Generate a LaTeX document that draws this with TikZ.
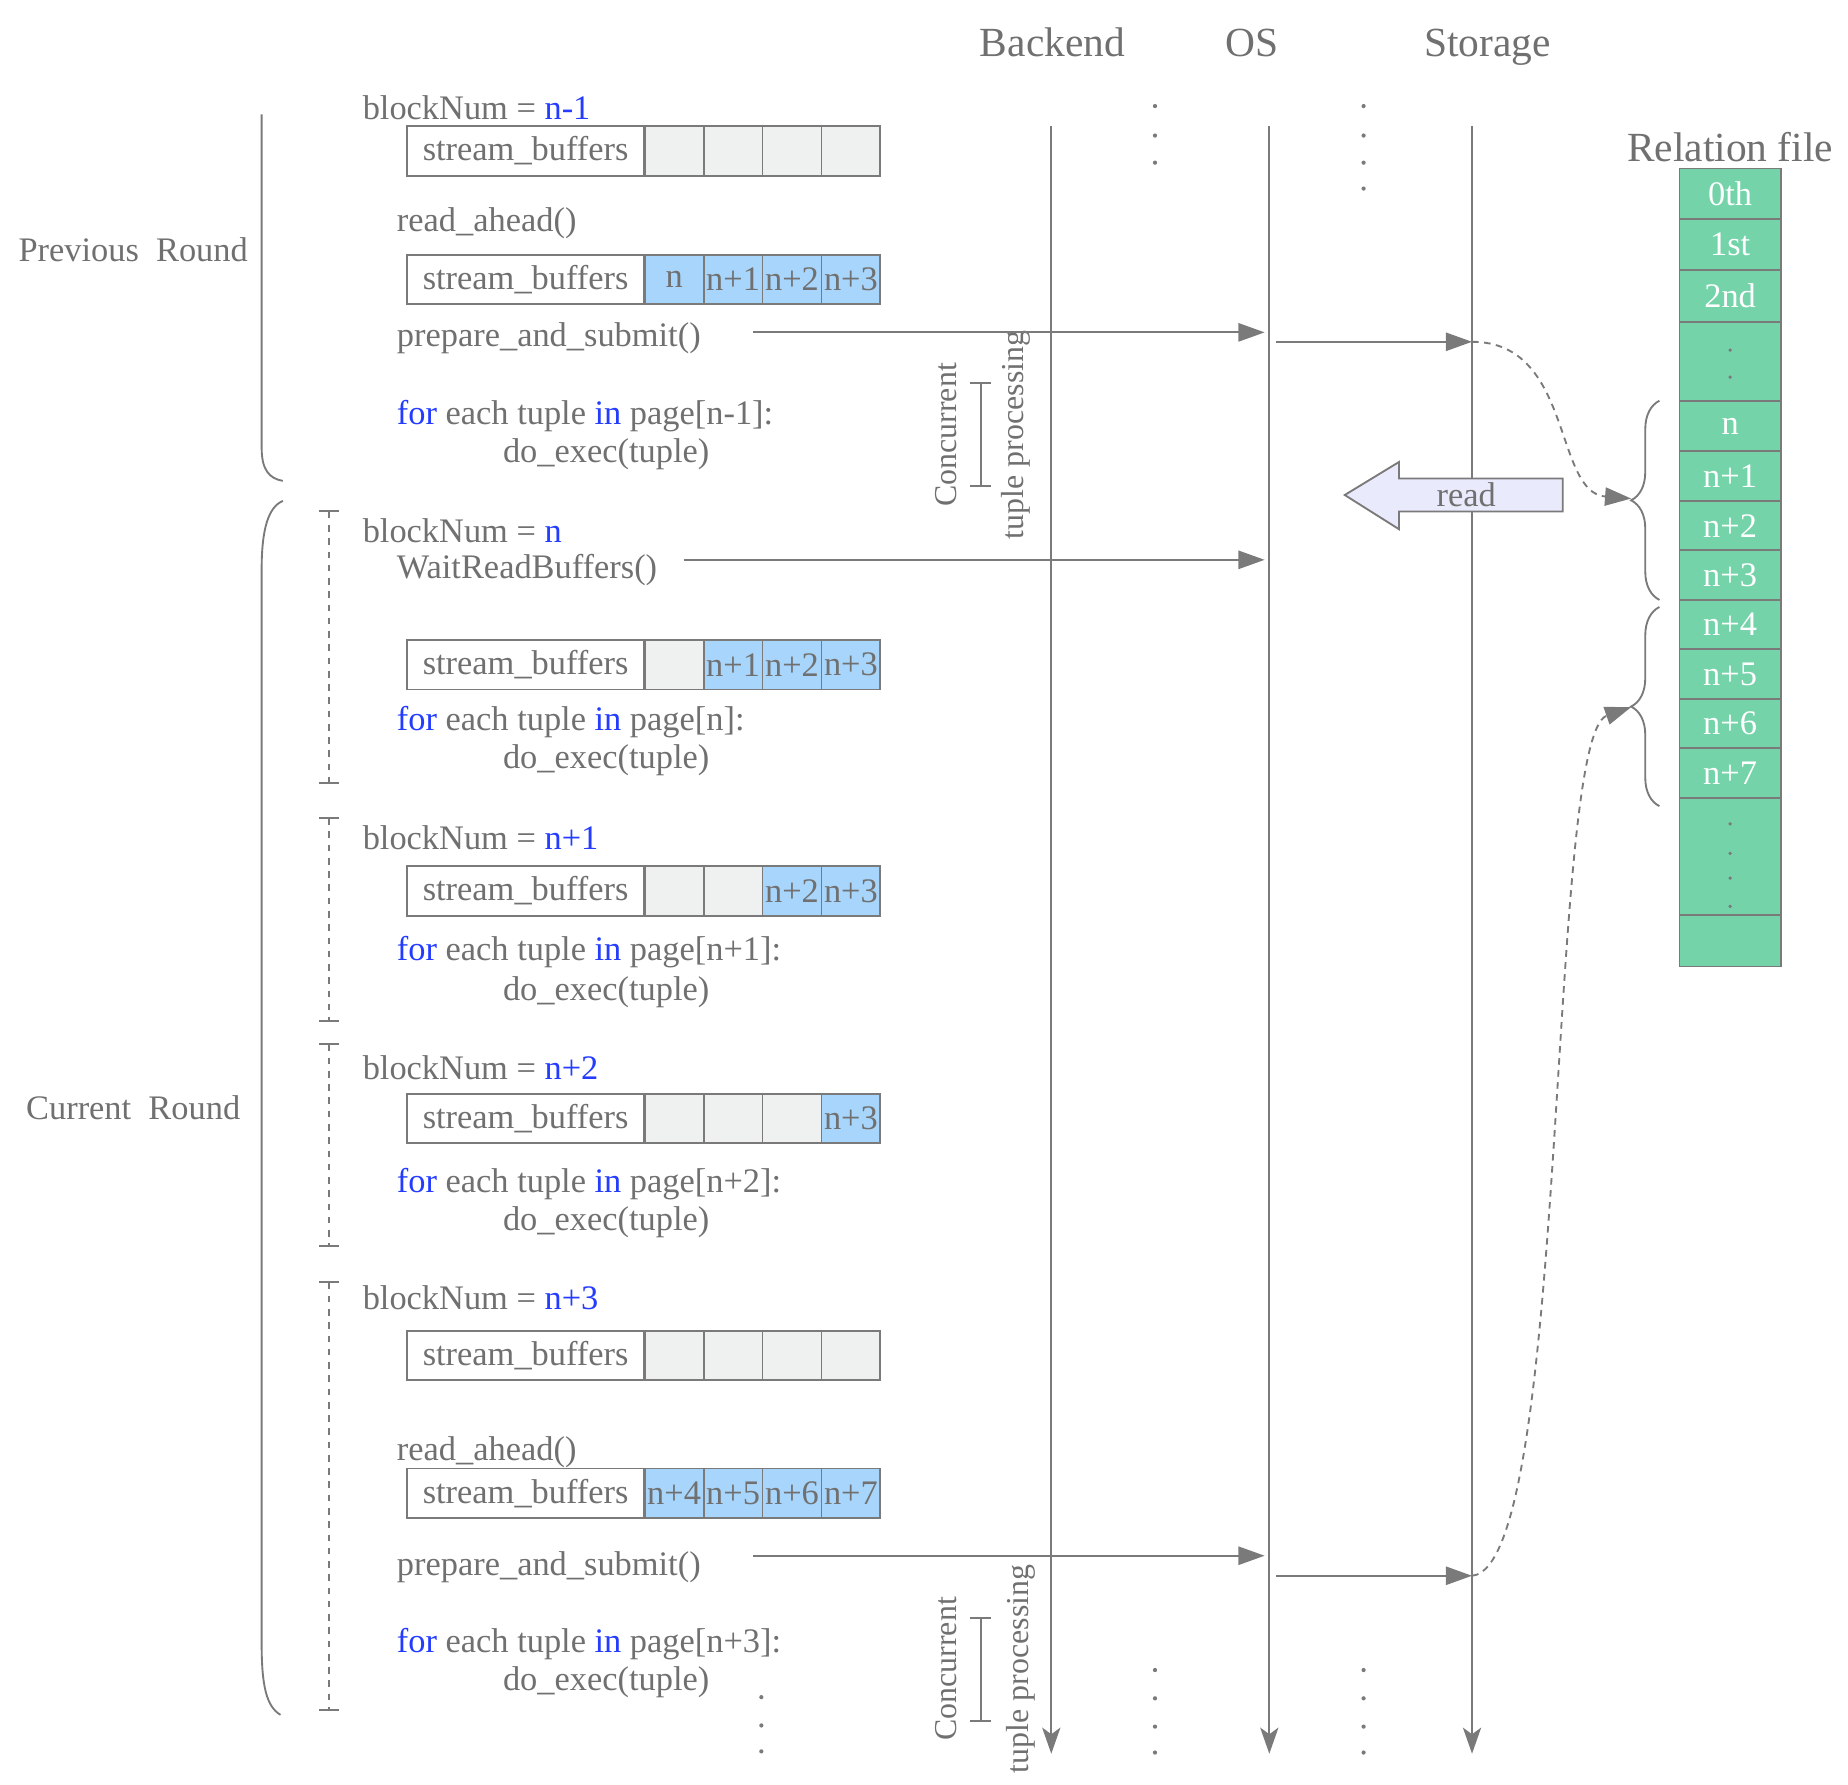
\documentclass[tikz,border=0pt]{standalone}
\usepackage{fontspec}
\setmainfont{Liberation Serif}
\usetikzlibrary{arrows.meta,decorations.pathreplacing}

\definecolor{txtgray}{RGB}{112,112,112}
\definecolor{linegray}{RGB}{122,122,122}
\definecolor{kwblue}{RGB}{35,60,255}
\definecolor{cellblue}{RGB}{168,213,251}
\definecolor{cellgray}{RGB}{239,240,240}
\definecolor{filegreen}{RGB}{116,211,169}
\definecolor{readfill}{RGB}{233,234,252}

\newcommand{\kw}[1]{\textcolor{kwblue}{#1}}
% one row of stream_buffers: name, y, cells (fill/label)
\newcommand{\bufrow}[3]{%
	\node[buflabel] (#1) at (446,#2) {stream\_buffers};
	\foreach \f/\lab [count=\i] in {#3}
		\node[bufcell,fill=\f] (#1c\i) at ({522+50*\i},#2) {\lab};
}

\begin{document}
\begin{tikzpicture}[x=0.01cm,y=-0.01cm,line width=0.45pt,draw=linegray,
	font=\fontsize{8.3}{10}\selectfont,text=txtgray,
	>={Triangle[length=6.3pt,width=4.4pt]},
	code/.style={anchor=west,inner sep=0pt},
	head/.style={anchor=base,inner sep=0pt,font=\fontsize{10}{12}\selectfont},
	buflabel/.style={draw=linegray,fill=white,minimum width=2.01cm,minimum height=0.42cm,inner sep=0pt},
	bufcell/.style={draw=linegray,minimum width=0.5cm,minimum height=0.42cm,inner sep=0pt},
	life/.style={draw=linegray,-{Stealth[length=6.3pt,width=4.4pt,inset=1.6pt]}},
	call/.style={draw=linegray,->},
	fetch/.style={draw=linegray,dash pattern=on 1.6pt off 1.3pt,->},
	span/.style={draw=linegray,{Bar[width=5pt]}-{Bar[width=5pt]}},
	step span/.style={draw=linegray,dash pattern=on 1.6pt off 1.6pt,{Bar[width=4.8pt]}-{Bar[width=4.8pt]}},
	conc/.style={rotate=90,inner sep=0pt,font=\fontsize{7.7}{9}\selectfont}]
	\useasboundingbox (0,0) rectangle (1568,1514);

	% The headers
	\node[head] (hbk) at (893,48) {Backend};
	\node[head] (hos) at (1062,48) {OS};
	\node[head] (hst) at (1262,48) {Storage};
	\node[head] (hrel) at (1468,137) {Relation file};

	% The lifelines
	\coordinate (bk0) at (892,107);
	\coordinate (bk1) at (892,1488);
	\coordinate (os0) at (1077,107);
	\coordinate (os1) at (1077,1488);
	\coordinate (st0) at (1249,107);
	\coordinate (st1) at (1249,1488);
	\draw[life] (bk0) -- (bk1);
	\draw[life] (os0) -- (os1);
	\draw[life] (st0) -- (st1);

	% The dots
	\foreach \yy in {90,115,138}
		\fill[linegray] (980,\yy) circle (1.8);
	\foreach \yy in {90,115,138,160}
		\fill[linegray] (1157,\yy) circle (1.8);
	\foreach \yy in {1417,1441,1465,1487}
	{
		\fill[linegray] (980,\yy) circle (1.8);
		\fill[linegray] (1157,\yy) circle (1.8);
	}
	\foreach \yy in {1440,1464,1486}
		\fill[linegray] (646,\yy) circle (1.8);

	% The rounds
	\node[inner sep=0pt] (prev) at (113,212) {Previous\ \ Round};
	\node[inner sep=0pt] (curr) at (113,940) {Current\ \ Round};
	\draw (222,97) -- (222,380) .. controls (222,398) and (228,406) .. (240,408);
	\draw (240,425) .. controls (228,430) and (222,448) .. (222,483) -- (222,1395) .. controls (222,1430) and (226,1448) .. (238,1455);
	\foreach \ta/\tb in {433/665,693/867,885/1058,1087/1452}
		\draw[step span] (279,\ta) -- (279,\tb);

	% Previous round
	\node[code] (bn0) at (307,91) {blockNum = \kw{n-1}};
	\node[code] (ra0) at (336,189) {read\_ahead()};
	\node[code] (ps0) at (336,287) {prepare\_and\_submit()};
	\node[code] (fe0) at (336,353) {\kw{for} each tuple \kw{in} page[n-1]:};
	\node[code] (de0) at (426,385) {do\_exec(tuple)};
	\bufrow{sb0a}{128}{cellgray/{},cellgray/{},cellgray/{},cellgray/{}}
	\bufrow{sb0b}{237}{cellblue/n,cellblue/n+1,cellblue/n+2,cellblue/n+3}

	% Current round, blockNum = n
	\node[code] (bn1) at (307,450) {blockNum = \kw{n}};
	\node[code] (wr1) at (336,484) {WaitReadBuffers()};
	\node[code] (fe1) at (336,613) {\kw{for} each tuple \kw{in} page[n]:};
	\node[code] (de1) at (426,645) {do\_exec(tuple)};
	\bufrow{sb1}{564}{cellgray/{},cellblue/n+1,cellblue/n+2,cellblue/n+3}

	% blockNum = n+1
	\node[code] (bn2) at (307,711) {blockNum = \kw{n+1}};
	\node[code] (fe2) at (336,808) {\kw{for} each tuple \kw{in} page[n+1]:};
	\node[code] (de2) at (426,842) {do\_exec(tuple)};
	\bufrow{sb2}{756}{cellgray/{},cellgray/{},cellblue/n+2,cellblue/n+3}

	% blockNum = n+2
	\node[code] (bn3) at (307,906) {blockNum = \kw{n+2}};
	\node[code] (fe3) at (336,1005) {\kw{for} each tuple \kw{in} page[n+2]:};
	\node[code] (de3) at (426,1037) {do\_exec(tuple)};
	\bufrow{sb3}{949}{cellgray/{},cellgray/{},cellgray/{},cellblue/n+3}

	% blockNum = n+3
	\node[code] (bn4) at (307,1101) {blockNum = \kw{n+3}};
	\node[code] (ra4) at (336,1232) {read\_ahead()};
	\node[code] (ps4) at (336,1330) {prepare\_and\_submit()};
	\node[code] (fe4) at (336,1395) {\kw{for} each tuple \kw{in} page[n+3]:};
	\node[code] (de4) at (426,1427) {do\_exec(tuple)};
	\bufrow{sb4a}{1150}{cellgray/{},cellgray/{},cellgray/{},cellgray/{}}
	\bufrow{sb4b}{1267}{cellblue/n+4,cellblue/n+5,cellblue/n+6,cellblue/n+7}

	% Concurrent tuple processing
	\node[conc] (cc0) at (803,369) {Concurrent};
	\node[conc] (tp0) at (862,369) {tuple processing};
	\draw[span] (832,324) -- (832,413);
	\node[conc] (cc4) at (803,1416) {Concurrent};
	\node[conc] (tp4) at (866,1416) {tuple processing};
	\draw[span] (832,1372) -- (832,1461);

	% The relation file
	\foreach \lab/\ya/\yb [count=\k] in {0th/143/186,1st/186/229,2nd/229/273,{}/273/340,n/340/383,n+1/383/425,n+2/425/467,n+3/467/509,n+4/509/551,n+5/551/593,n+6/593/635,n+7/635/677,{}/677/776,{}/776/820}
	{
		\draw[fill=filegreen] (1425,\ya) rectangle (1511,\yb);
		\node[text=white,inner sep=0pt] (rf\k) at (1468,{(\ya+\yb)/2}) {\lab};
	}
	\foreach \yy in {297,320,699,724,745,769}
		\fill[linegray] (1468,\yy) circle (1.6);
	\draw[decorate,decoration={brace,amplitude=0.24cm}] (1408,509) -- (1408,340);
	\draw[decorate,decoration={brace,amplitude=0.24cm}] (1408,684) -- (1408,515);
	\coordinate (tip1) at (1384,423);
	\coordinate (tip2) at (1384,600);

	% The calls
	\coordinate (ps0a) at (639,282);
	\coordinate (os0a) at (1073,282);
	\coordinate (os0b) at (1083,290);
	\coordinate (st0a) at (1249,290);
	\draw[call] (ps0a) -- (os0a);
	\draw[call] (os0b) -- (st0a);
	\draw[fetch] (st0a) .. controls (1335,290) and (1318,418) .. (tip1);

	\coordinate (wr1a) at (580,475);
	\coordinate (os1a) at (1073,475);
	\draw[call] (wr1a) -- (os1a);

	\coordinate (ps4a) at (639,1320);
	\coordinate (os4a) at (1073,1320);
	\coordinate (os4b) at (1083,1337);
	\coordinate (st4a) at (1249,1337);
	\draw[call] (ps4a) -- (os4a);
	\draw[call] (os4b) -- (st4a);
	\draw[fetch] (st4a) .. controls (1332,1330) and (1312,625) .. (tip2);

	% The read arrow
	\filldraw[fill=readfill,draw=linegray] (1326,406) -- (1187,406) -- (1187,392) -- (1141,420) -- (1187,449) -- (1187,434) -- (1326,434) -- cycle;
	\node[inner sep=0pt] (rd) at (1244,420) {read};
\end{tikzpicture}
\end{document}
